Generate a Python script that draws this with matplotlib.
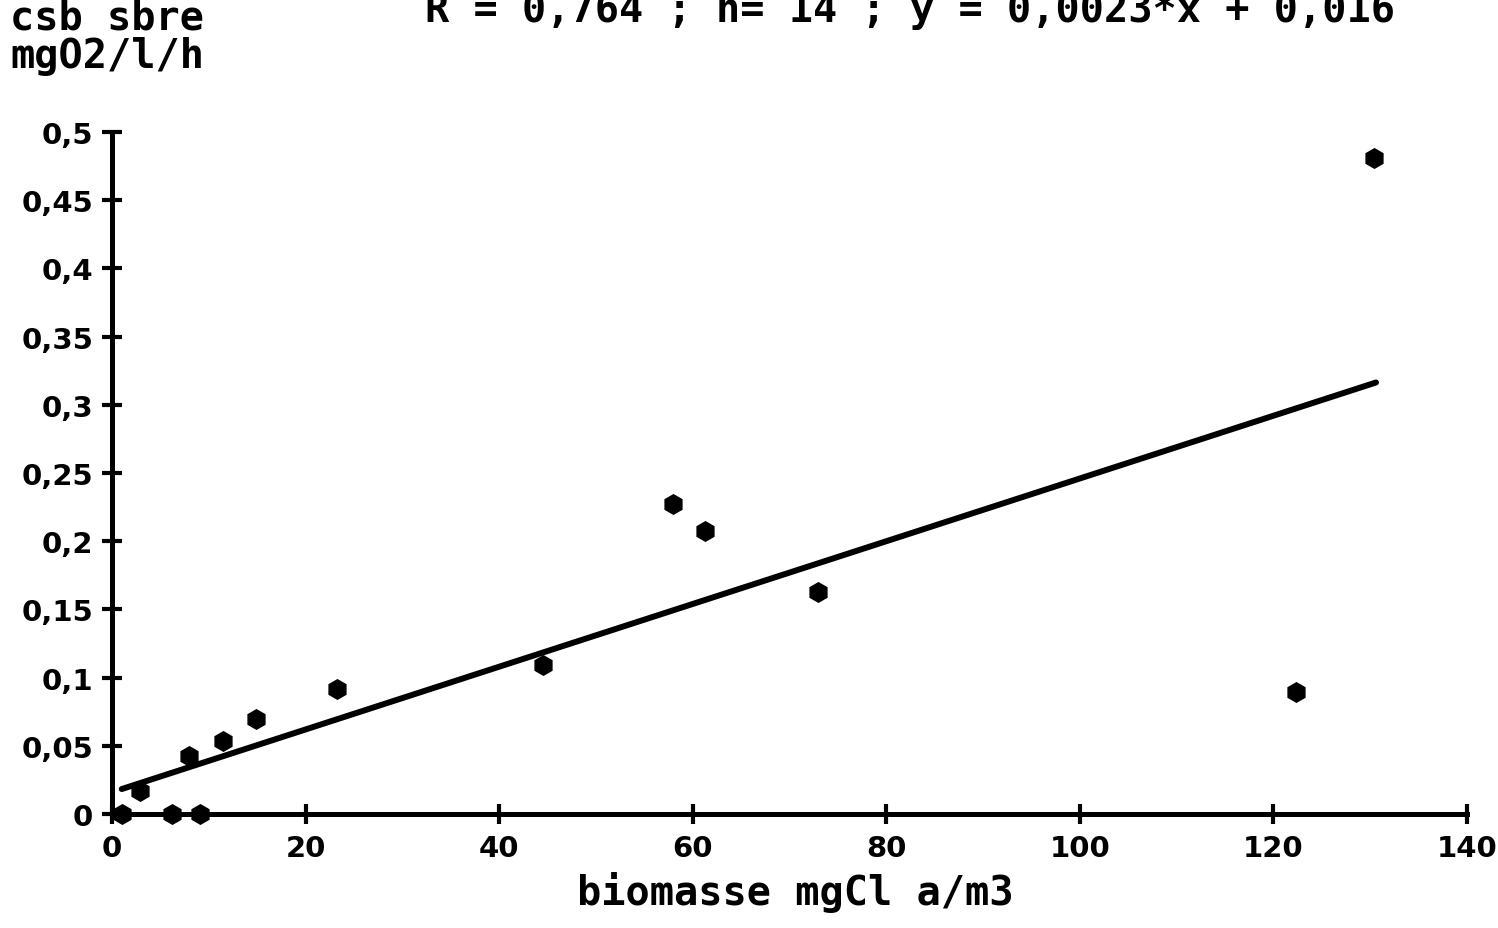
import numpy as np
import matplotlib
matplotlib.use("Agg")
import matplotlib.pyplot as plt

# biomass (mg Chl a / m3) vs. respiration (mg O2 / l / h)
biomasse = [1.0, 6.2, 9.1, 2.9, 8.0, 11.5, 14.9, 23.2, 44.5, 58.0, 61.3, 72.9, 122.3, 130.4]
csb = [0.0, 0.0, 0.0, 0.017, 0.0425, 0.0535, 0.0695, 0.0915, 0.109, 0.227, 0.2075, 0.163, 0.0895, 0.481]

# regression y = a*x + b
pente = 0.0023
ordonnee = 0.016
x_fit = [1.0, 130.6]

xticks = [0, 20, 40, 60, 80, 100, 120, 140]
yticks = [0, 0.05, 0.1, 0.15, 0.2, 0.25, 0.3, 0.35, 0.4, 0.45, 0.5]
ytick_labels = ["0", "0,05", "0,1", "0,15", "0,2", "0,25", "0,3", "0,35", "0,4", "0,45", "0,5"]
titre = "R = 0,764 ; n= 14 ; y = 0,0023*x + 0,016"

tick_font = dict(family=["DejaVu Sans"], weight="bold", size=21)
label_font = dict(family=["DejaVu Sans Mono"], weight="bold", size=29)

fig = plt.figure(figsize=(14.98, 9.29), dpi=100)
ax = fig.add_axes([0.0748, 0.1227, 0.9045, 0.7341])

xf = np.array(x_fit)
ax.plot(xf, pente * xf + ordonnee, color="black", lw=4.3, solid_capstyle="round", zorder=2)
ax.plot(biomasse, csb, linestyle="none", marker="h", ms=14, color="black",
        clip_on=False, zorder=4)

ax.set_xlim(0, 140)
ax.set_ylim(0, 0.5)
for s in ("top", "right"):
    ax.spines[s].set_visible(False)
for s in ("left", "bottom"):
    ax.spines[s].set_linewidth(3.6)

ax.set_xticks(xticks)
ax.set_xticklabels([str(v) for v in xticks], fontdict=tick_font)
ax.set_yticks(yticks)
ax.set_yticklabels(ytick_labels, fontdict=tick_font)
ax.tick_params(direction="inout", length=15, width=3, color="black")
ax.tick_params(axis="x", pad=7)
ax.tick_params(axis="y", pad=6)

fig.text(0.531, 1 - 905 / 929, "biomasse mgCl a/m3", ha="center", va="baseline", **label_font)
fig.text(0.007, 1 - 30 / 929, "csb sbre", ha="left", va="baseline", **label_font)
fig.text(0.007, 1 - 68 / 929, "mgO2/l/h", ha="left", va="baseline", **label_font)
fig.text(0.6075, 1 - 22 / 929, titre, ha="center", va="baseline", **label_font)

fig.savefig("out.png", dpi=100, facecolor="white")
